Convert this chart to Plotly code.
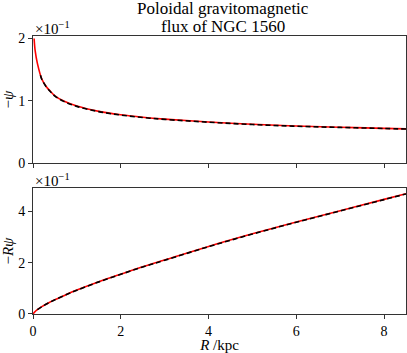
import plotly.graph_objects as go
from plotly.subplots import make_subplots

# model curve (red), values in units of 1e-1
R_model = [0.025, 0.05, 0.1, 0.2, 0.3, 0.4, 0.5, 0.7, 1.0, 1.5, 2.0, 2.5, 3.0, 4.0, 5.0, 6.0, 7.0, 8.0, 8.5]
psi_model = [2.0, 1.80, 1.60, 1.35, 1.23, 1.15, 1.08, 0.995, 0.915, 0.83, 0.775, 0.735, 0.705, 0.66, 0.622, 0.595, 0.575, 0.557, 0.548]
R_model_b = [0.0, 0.03, 0.1, 0.2, 0.35, 0.5, 0.75, 1.0, 1.5, 2.0, 2.5, 3.0, 4.0, 5.0, 6.0, 7.0, 8.0, 8.5]
Rpsi_model = [0.0, 0.065, 0.17, 0.285, 0.43, 0.56, 0.75, 0.93, 1.255, 1.55, 1.835, 2.10, 2.63, 3.12, 3.58, 4.02, 4.46, 4.68]

# data curve (black dashed)
R_data = [0.17, 0.2, 0.3, 0.4, 0.5, 0.7, 1.0, 1.5, 2.0, 2.5, 3.0, 4.0, 5.0, 6.0, 7.0, 8.0, 8.5]
psi_data = [1.41, 1.345, 1.225, 1.145, 1.075, 0.99, 0.91, 0.826, 0.771, 0.731, 0.701, 0.656, 0.618, 0.591, 0.572, 0.555, 0.546]
R_data_b = [0.1, 0.2, 0.35, 0.5, 0.75, 1.0, 1.5, 2.0, 2.5, 3.0, 4.0, 5.0, 6.0, 7.0, 8.0, 8.5]
Rpsi_data = [0.168, 0.283, 0.427, 0.556, 0.746, 0.925, 1.25, 1.545, 1.83, 2.09, 2.62, 3.11, 3.57, 4.01, 4.45, 4.67]

x_ticks = [0, 2, 4, 6, 8]

SERIF = "Times New Roman, Liberation Serif, serif"
AX = "#333333"

fig = make_subplots(rows=2, cols=1, vertical_spacing=0.09)

fig.add_trace(go.Scatter(x=R_model, y=psi_model, mode="lines", line=dict(color="red", width=1.6, shape="spline")), row=1, col=1)
fig.add_trace(go.Scatter(x=R_data, y=psi_data, mode="lines", line=dict(color="black", width=1.6, dash="5px,3px", shape="spline")), row=1, col=1)
fig.add_trace(go.Scatter(x=R_model_b, y=Rpsi_model, mode="lines", line=dict(color="red", width=1.6, shape="spline")), row=2, col=1)
fig.add_trace(go.Scatter(x=R_data_b, y=Rpsi_data, mode="lines", line=dict(color="black", width=1.6, dash="5px,3px", shape="spline")), row=2, col=1)

axis_style = dict(showline=True, linecolor=AX, linewidth=1, mirror=True, ticks="outside",
                  ticklen=4, tickcolor=AX, showgrid=False, zeroline=False,
                  tickfont=dict(family=SERIF, size=14, color="black"))

fig.update_xaxes(range=[0, 8.5], tickvals=x_ticks, **axis_style)
fig.update_xaxes(showticklabels=False, row=1, col=1)
fig.update_xaxes(title=dict(text="<i>R</i> /kpc", font=dict(family=SERIF, size=15, color="black"), standoff=3), row=2, col=1)
fig.update_yaxes(**axis_style)
fig.update_yaxes(range=[0, 2.04], tickvals=[0, 1, 2], domain=[0.543, 1.0],
                 title=dict(text="−<i>ψ</i>", font=dict(family=SERIF, size=15, color="black"), standoff=6), row=1, col=1)
fig.update_yaxes(range=[0, 4.9], tickvals=[0, 2, 4], domain=[0.0, 0.453],
                 title=dict(text="−<i>Rψ</i>", font=dict(family=SERIF, size=15, color="black"), standoff=6), row=2, col=1)

for xr, yr in [("x domain", "y domain"), ("x2 domain", "y2 domain")]:
    fig.add_annotation(text="×10<sup>−1</sup>", xref=xr, yref=yr, x=0, y=1,
                       xanchor="left", yanchor="bottom", showarrow=False,
                       font=dict(family=SERIF, size=15, color="black"), yshift=-3)

# title as two centred lines
for txt, ypx in [("Poloidal gravitomagnetic", 9), ("flux of NGC 1560", 26)]:
    fig.add_annotation(text=txt, xref="paper", yref="paper", x=0.51, y=1 + (36 - ypx) / 278,
                       xanchor="center", yanchor="middle", showarrow=False,
                       font=dict(family=SERIF, size=17, color="black"))

fig.update_layout(
    width=407, height=353,
    margin=dict(l=33, r=1, t=36, b=39),
    font=dict(family=SERIF, color="black"),
    plot_bgcolor="white", paper_bgcolor="white",
    showlegend=False,
)

fig.write_html("out.html", config={"displayModeBar": False},
               post_script="document.body.style.margin='0';")
